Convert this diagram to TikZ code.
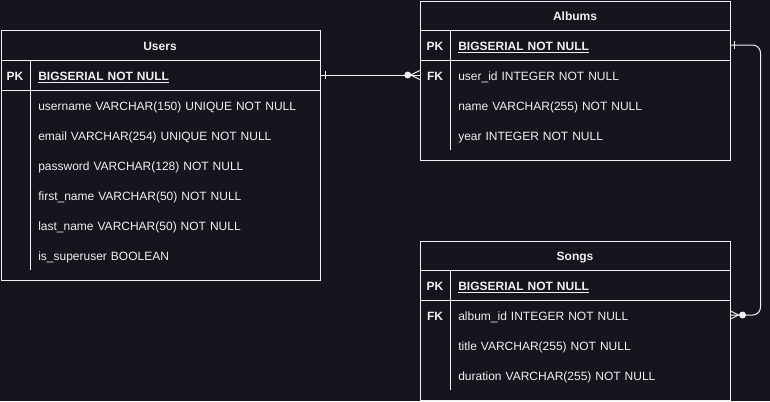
\documentclass[tikz,border=0pt]{standalone}
\usepackage{fontspec}
\setmainfont{Liberation Sans}
\usetikzlibrary{calc,positioning}
\definecolor{bgdark}{HTML}{18141D}
\definecolor{ink}{HTML}{F0F0F0}

\begin{document}
\begin{tikzpicture}[x=0.75pt,y=-0.75pt]
\tikzstyle{entity}=[draw=ink,line width=0.75pt,anchor=north west,inner sep=0pt]
\tikzstyle{title}=[text=ink,font=\bfseries\fontsize{9}{11}\selectfont,text height=9.5pt,text depth=1pt]
\tikzstyle{field}=[text=ink,font=\fontsize{9}{11}\selectfont,anchor=west,inner xsep=6pt,inner ysep=0pt,text width=205.5pt,align=left,minimum height=22.5pt,text height=9.5pt,text depth=1pt]
\tikzstyle{key}=[text=ink,font=\bfseries\fontsize{9}{11}\selectfont,minimum width=22.5pt,minimum height=22.5pt,inner sep=0pt,text height=9.5pt,text depth=1pt]
\tikzstyle{rel}=[draw=ink,line width=0.75pt]

\useasboundingbox (0,0) rectangle (770,401);
\fill [bgdark] (0,0) rectangle (770,401);

% Users
\node (users) [entity, minimum width=239.25pt, minimum height=187.5pt] at (1,30) {};
\node (users title) [title] at (160,45) {Users};
\draw [rel] (users.north west) ++(0,30) -- +(319,0);
\draw [rel] (users.north west) ++(0,60) -- +(319,0);
\draw [rel] (30,60) -- (30,270);
\node (users pk label) [key] at (15,75) {PK};
\node (users pk) [field] at (30,75) {\bfseries\underline{BIGSERIAL NOT NULL}};
\foreach \t [count=\i] in {{username VARCHAR(150) UNIQUE NOT NULL},{email VARCHAR(254) UNIQUE NOT NULL},{password VARCHAR(128) NOT NULL},{first\_name VARCHAR(50) NOT NULL},{last\_name VARCHAR(50) NOT NULL},{is\_superuser BOOLEAN}}
  \node (users row\i) [field] at (30,75+30*\i) {\t};

% Albums
\node (albums) [entity, minimum width=232.5pt, minimum height=119.25pt] at (420,1) {};
\node (albums title) [title] at (575,15) {Albums};
\draw [rel] (albums.north west) ++(0,29) -- +(310,0);
\draw [rel] (albums.north west) ++(0,59) -- +(310,0);
\draw [rel] (450,30) -- (450,150);
\node (albums pk label) [key] at (435,45) {PK};
\node (albums pk) [field, text width=198pt] at (450,45) {\bfseries\underline{BIGSERIAL NOT NULL}};
\node (albums fk label) [key] at (435,75) {FK};
\foreach \t [count=\i] in {{user\_id INTEGER NOT NULL},{name VARCHAR(255) NOT NULL},{year INTEGER NOT NULL}}
  \node (albums row\i) [field, text width=198pt] at (450,45+30*\i) {\t};

% Songs
\node (songs) [entity, minimum width=232.5pt, minimum height=119.25pt] at (420,241) {};
\node (songs title) [title] at (575,255) {Songs};
\draw [rel] (songs.north west) ++(0,29) -- +(310,0);
\draw [rel] (songs.north west) ++(0,59) -- +(310,0);
\draw [rel] (450,270) -- (450,390);
\node (songs pk label) [key] at (435,285) {PK};
\node (songs pk) [field, text width=198pt] at (450,285) {\bfseries\underline{BIGSERIAL NOT NULL}};
\node (songs fk label) [key] at (435,315) {FK};
\foreach \t [count=\i] in {{album\_id INTEGER NOT NULL},{title VARCHAR(255) NOT NULL},{duration VARCHAR(255) NOT NULL}}
  \node (songs row\i) [field, text width=198pt] at (450,285+30*\i) {\t};

% relations
\draw [rel] (users pk.east) -- (albums fk label.west);
\draw [rel] ($(users pk.east)+(5,-4)$) -- +(0,8);
\fill [ink] ($(albums fk label.west)+(-12,0)$) circle [radius=2.6pt];
\draw [rel] ($(albums fk label.west)+(-9,0)$) -- +(9,-4.5);
\draw [rel] ($(albums fk label.west)+(-9,0)$) -- +(9,4.5);

\draw [rel, rounded corners=6pt] (albums pk.east) -- ++(30,0) |- (songs row1.east);
\draw [rel] ($(albums pk.east)+(4,-4)$) -- +(0,8);
\fill [ink] ($(songs row1.east)+(12,0)$) circle [radius=2.6pt];
\draw [rel] ($(songs row1.east)+(8,0)$) -- +(-8,-4);
\draw [rel] ($(songs row1.east)+(8,0)$) -- +(-8,4);

\end{tikzpicture}
\end{document}
